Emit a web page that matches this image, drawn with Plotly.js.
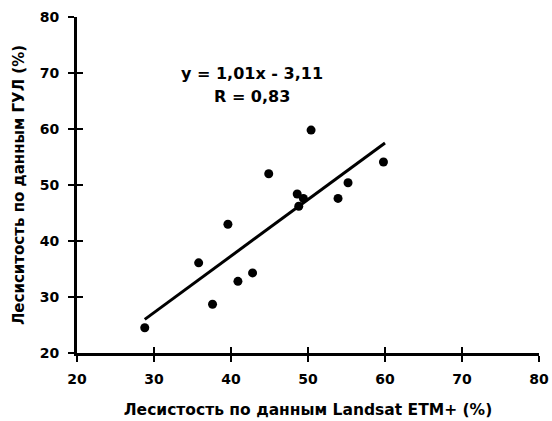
<!DOCTYPE html>
<html><head><meta charset="utf-8">
<script src="https://cdn.plot.ly/plotly-3.0.1.min.js"></script>
<style>body{margin:0;background:#fff}#c{width:552px;height:421px}</style>
</head><body><div id="c"></div>
<script>
const landsatX = [28.8, 37.6, 35.8, 40.9, 42.8, 39.6, 44.9, 50.4, 48.6, 48.8, 49.4, 53.9, 55.2, 59.8];
const gulY     = [24.5, 28.7, 36.1, 32.8, 34.3, 43.0, 52.0, 59.8, 48.4, 46.2, 47.6, 47.6, 50.4, 54.1];
const fitX = [28.8, 60.0];
const fitY = [26.0, 57.5];
const tickVals = [20, 30, 40, 50, 60, 70, 80];
const tickText = ["20", "30", "40", "50", "60", "70", "80"];
const eqText = "y = 1,01x - 3,11";
const rText = "R = 0,83";
const xTitle = "Лесистость по данным Landsat ETM+ (%)";
const yTitle = "Лесиситость по данным ГУЛ (%)";

const F = "DejaVu Sans, Liberation Sans, sans-serif";
const b = s => "<b>" + s + "</b>";
const traces = [
  {x: fitX, y: fitY, mode: 'lines', line: {color: '#000', width: 3}, hoverinfo: 'skip'},
  {x: landsatX, y: gulY, mode: 'markers', marker: {color: '#000', size: 9}}
];
const axBase = {range: [20, 80], tickvals: tickVals, ticktext: tickText.map(b), showgrid: false, zeroline: false,
  showline: true, linecolor: '#000', linewidth: 3, ticks: 'outside', ticklen: 6, tickwidth: 2, tickcolor: '#000',
  tickfont: {family: F, size: 14, color: '#000'}};
const layout = {
  width: 552, height: 421, showlegend: false,
  paper_bgcolor: '#fff', plot_bgcolor: '#fff',
  margin: {l: 77, r: 13, t: 17, b: 68},
  xaxis: Object.assign({}, axBase, {ticklabelstandoff: 5,
    title: {text: b(xTitle), font: {family: F, size: 15.5, color: '#000'}, standoff: 19}}),
  yaxis: Object.assign({}, axBase, {ticklabelstandoff: 6,
    title: {text: b(yTitle), font: {family: F, size: 15, color: '#000'}, standoff: 12}}),
  xaxis2: {overlaying: 'x', range: [20, 80], tickvals: tickVals, ticks: 'inside', ticklen: 6, tickwidth: 2, tickcolor: '#000',
    showticklabels: false, showline: false, showgrid: false, zeroline: false, anchor: 'y'},
  yaxis2: {overlaying: 'y', range: [20, 80], tickvals: tickVals, ticks: 'inside', ticklen: 6, tickwidth: 2, tickcolor: '#000',
    showticklabels: false, showline: false, showgrid: false, zeroline: false, anchor: 'x', side: 'left'},
  annotations: [
    {x: 42.7, y: 69.9, xref: 'x', yref: 'y', text: b(eqText), showarrow: false,
     font: {family: F, size: 16, color: '#000'}},
    {x: 42.7, y: 65.8, xref: 'x', yref: 'y', text: b(rText), showarrow: false,
     font: {family: F, size: 16, color: '#000'}}
  ]
};
traces.push({x: [20], y: [20], xaxis: 'x2', yaxis: 'y2', mode: 'markers', marker: {opacity: 0}, hoverinfo: 'skip'});
Plotly.newPlot('c', traces, layout, {staticPlot: true});
</script></body></html>
